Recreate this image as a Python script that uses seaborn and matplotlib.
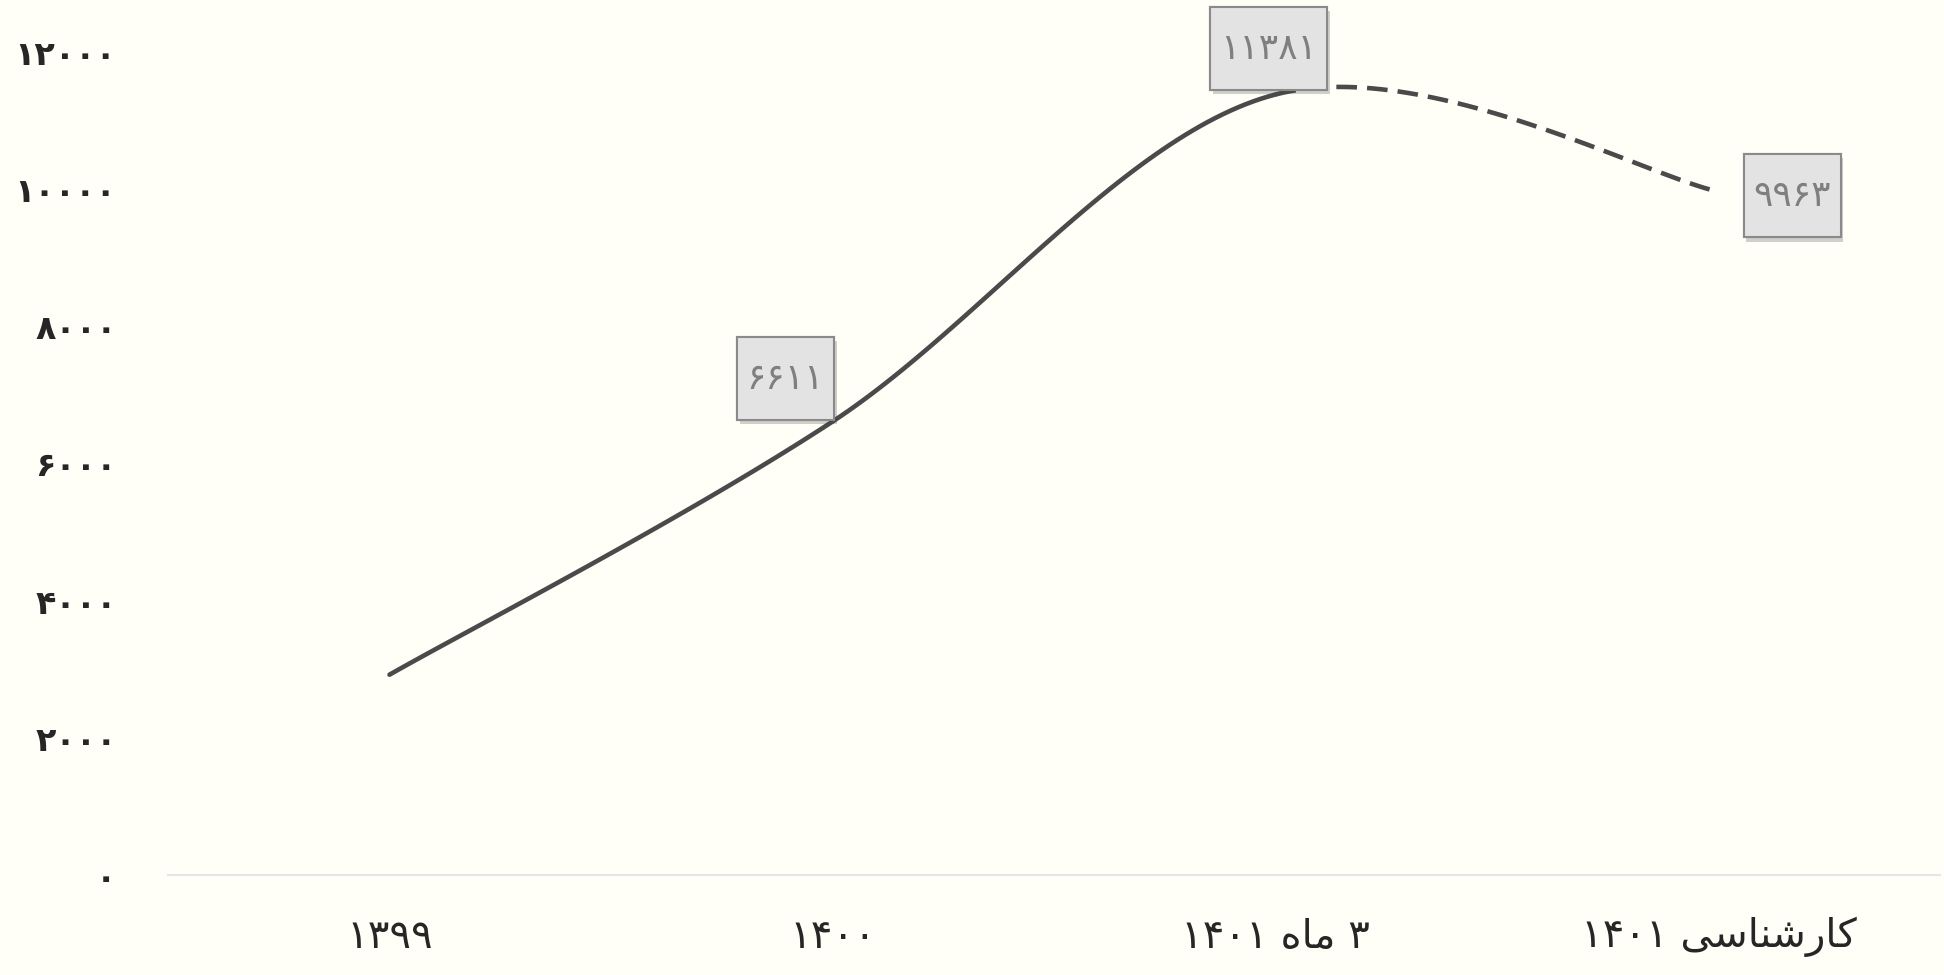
import matplotlib
matplotlib.use("Agg")
import matplotlib.pyplot as plt
import matplotlib.patheffects as pe
from matplotlib.path import Path
import seaborn as sns
import numpy as np
import pandas as pd

# data (Persian digits). matplotlib does no RTL layout or shaping, so the two
# Persian labels are given in visual order with Arabic presentation forms:
#   "۳ ماه ۱۴۰۱" and "کارشناسی ۱۴۰۱"
categories = ["۱۳۹۹", "۱۴۰۰",
              "۱۴۰۱ \uFEE9\uFE8E\uFEE3 ۳",
              "۱۴۰۱ \uFBFD\uFEB3\uFE8E\uFEE8\uFEB7\uFEAD\uFE8E\uFB90"]
values = [2920, 6611, 11381, 9963]
value_labels = [None, "۶۶۱۱", "۱۱۳۸۱", "۹۹۶۳"]
y_ticks = [0, 2000, 4000, 6000, 8000, 10000, 12000]
y_tick_labels = ["۰", "۲۰۰۰", "۴۰۰۰", "۶۰۰۰", "۸۰۰۰", "۱۰۰۰۰", "۱۲۰۰۰"]

BG = "#fffef7"
LINE = "#4a4a4a"

sns.set_theme(style="white")
plt.rcParams["font.family"] = ["DejaVu Sans"]


def smooth_segment(xs, ys, i, n=60):
    # excel-style bezier smoothing between point i and i+1
    p = np.column_stack([xs, ys]).astype(float)
    prev = p[max(i - 1, 0)]
    nxt = p[min(i + 2, len(p) - 1)]
    p0, p3 = p[i], p[i + 1]
    c1 = p0 + (p3 - prev) / 6
    c2 = p3 - (nxt - p0) / 6
    t = np.linspace(0, 1, n)[:, None]
    b = (1 - t) ** 3 * p0 + 3 * (1 - t) ** 2 * t * c1 + 3 * (1 - t) * t ** 2 * c2 + t ** 3 * p3
    return b[:, 0], b[:, 1]


def label_box(x0, y0, width, height, mutation_size):
    # box with less padding on the sides than top/bottom
    px, py = 0.27 * mutation_size, 0.68 * mutation_size
    verts = [(x0 - px, y0 - py), (x0 + width + px, y0 - py),
             (x0 + width + px, y0 + height + py), (x0 - px, y0 + height + py),
             (x0 - px, y0 - py)]
    return Path(verts, closed=True)


x = np.arange(len(categories))
solid = [smooth_segment(x, values, i) for i in range(2)]
sx = np.concatenate([s[0] for s in solid])
sy = np.concatenate([s[1] for s in solid])
dx, dy = smooth_segment(x, values, 2)

fig = plt.figure(figsize=(19.44, 9.75), dpi=100, facecolor=BG)
ax = fig.add_axes([0.0864, 0.1026, 0.9116, 0.8769])
ax.set_facecolor(BG)

sns.lineplot(data=pd.DataFrame({"x": sx, "y": sy}), x="x", y="y", ax=ax,
             color=LINE, lw=3.3, sort=False, estimator=None)
sns.lineplot(data=pd.DataFrame({"x": dx, "y": dy}), x="x", y="y", ax=ax,
             color=LINE, lw=3.3, sort=False, estimator=None, linestyle=(0, (4.5, 2.2)))

ax.set_xlim(-0.5, len(categories) - 0.5)
ax.set_ylim(0, 12467)
ax.set_xticks(x)
ax.set_xticklabels(categories, fontsize=29, color="#262626")
ax.set_yticks(y_ticks)
ax.set_yticklabels(y_tick_labels, fontsize=24, fontweight="bold", color="#262626")
ax.tick_params(axis="y", length=0, pad=37)
ax.tick_params(axis="x", length=0, pad=30)
ax.set_xlabel("")
ax.set_ylabel("")

for s in ["top", "right", "left"]:
    ax.spines[s].set_visible(False)
ax.spines["bottom"].set_color("#e6e6ea")
ax.spines["bottom"].set_linewidth(1.5)

offsets = {1: (-34, 31), 2: (-5, 33), 3: (53, -3)}
for i, lab in enumerate(value_labels):
    if lab is None:
        continue
    ann = ax.annotate(lab, (x[i], values[i]), xytext=offsets[i], textcoords="offset points",
                      ha="center", va="center", fontsize=26, color="#7f7f7f",
                      bbox=dict(boxstyle=label_box, fc="#e3e3e3", ec="#8a8a8a", lw=1.5))
    ann.get_bbox_patch().set_path_effects([pe.withSimplePatchShadow(offset=(2, -3), alpha=0.25), pe.Normal()])

fig.savefig("out.png", dpi=100, facecolor=BG)
